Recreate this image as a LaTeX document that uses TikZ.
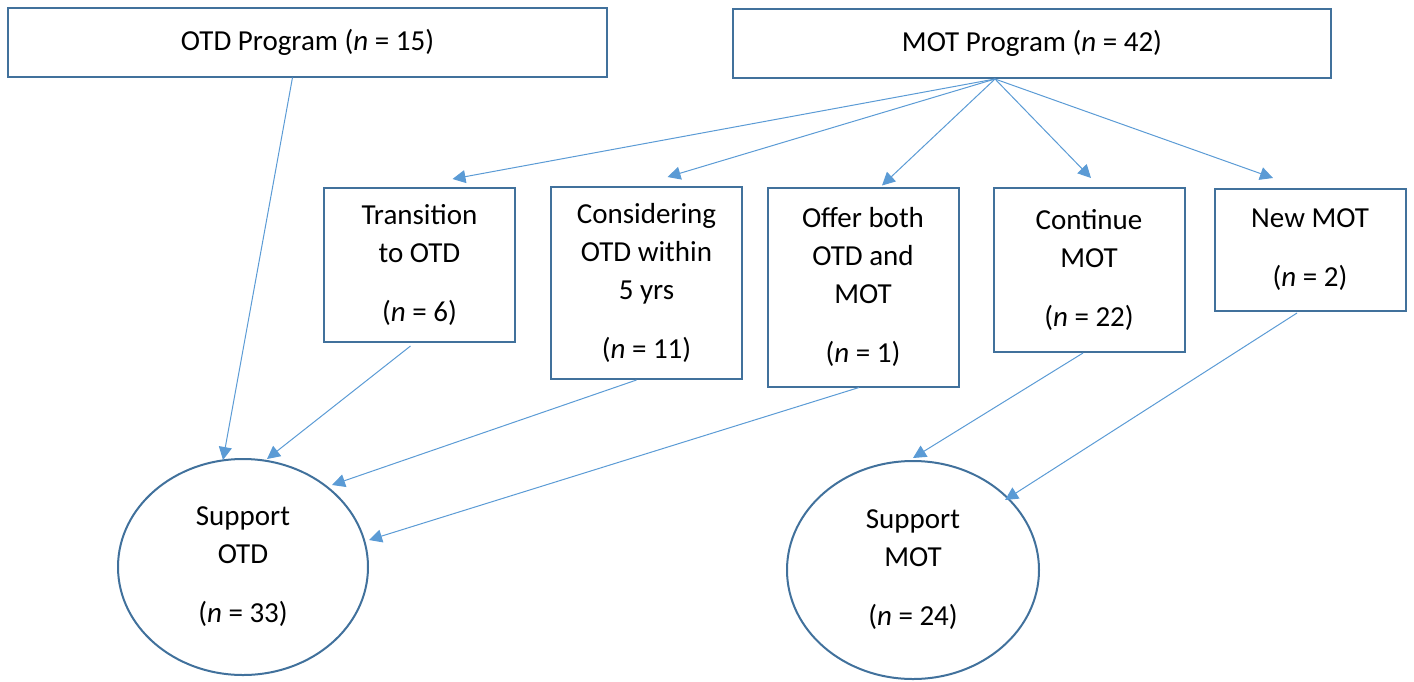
\documentclass[tikz,border=0pt]{standalone}
\usepackage{fontspec}
\setmainfont{Carlito}
\usepackage{tikz}
\usetikzlibrary{arrows.meta,calc,shapes.geometric}
\usepackage{xcolor}
\definecolor{Calypso}{HTML}{41719C}
\definecolor{Danube}{HTML}{5B9BD5}
\newcommand{\nn}[1]{(\textit{n} = #1)}

\tikzset{
  progbox/.style={draw=Calypso,line width=1pt,rectangle,inner sep=0pt,
    font=\fontsize{14.5}{19}\selectfont,align=center},
  choicebox/.style={progbox,minimum width=95.5pt},
  supportell/.style={draw=Calypso,line width=1pt,ellipse,inner sep=0pt,
    font=\fontsize{14.5}{19}\selectfont,align=center},
  flow/.style={draw=Danube,line width=0.5pt,-{Triangle[length=6.5pt,width=6.5pt]},fill=none}
}

\begin{document}
\begin{tikzpicture}[x=0.5pt,y=-0.5pt]
    \useasboundingbox (0,0) rectangle (1414,681);

    \node[progbox,minimum width=299.5pt,minimum height=34.5pt] (otd) at (307.5,42) {OTD Program \nn{15}};
    \node[progbox,minimum width=299pt,minimum height=34.5pt] (mot) at (1032,43.5) {MOT Program \nn{42}};

    \node[choicebox,minimum height=77pt] (trans) at (419.5,265) {Transition\\to OTD\\[10.5pt]\nn{6}};
    \node[choicebox,minimum height=96pt] (cons) at (646.5,283) {Considering\\OTD within\\5 yrs\\[10.5pt]\nn{11}};
    \node[choicebox,minimum height=99.5pt] (offer) at (863,287) {Offer both\\OTD and\\MOT\\[10.5pt]\nn{1}};
    \node[choicebox,minimum height=82pt] (cont) at (1089,270) {Continue\\MOT\\[10.5pt]\nn{22}};
    \node[choicebox,minimum height=61pt] (newmot) at (1310,250) {New MOT\\[10.5pt]\nn{2}};

    \node[supportell,minimum width=125pt,minimum height=108pt] (supotd) at (243,567) {Support\\OTD\\[10.5pt]\nn{33}};
    \node[supportell,minimum width=126pt,minimum height=109pt] (supmot) at (913,570) {Support\\MOT\\[10.5pt]\nn{24}};

    \coordinate (fan) at ($(mot.south)+(-37,0)$);
    \draw[flow] (fan) -- ($(trans.north)+(33,-8)$);
    \draw[flow] (fan) -- ($(cons.north)+(21,-9)$);
    \draw[flow] (fan) -- ($(offer.north)+(19,-1)$);
    \draw[flow] (fan) -- ($(cont.north)+(2,-9)$);
    \draw[flow] (fan) -- ($(newmot.north)+(-37,-10)$);

    \draw[flow] ($(otd.south)+(-15,0)$) -- ($(supotd.north)+(-20,2)$);
    \draw[flow] ($(trans.south)+(-9,3)$) -- ($(supotd.north)+(24,1)$);
    \draw[flow] ($(cons.south)+(-10,0)$) -- ($(supotd.center)+(89,-82)$);
    \draw[flow] ($(offer.south)+(-4,0)$) -- ($(supotd.center)+(126,-27)$);

    \draw[flow] ($(cont.south)+(-6,0)$) -- ($(supmot.north)+(0,-2)$);
    \draw[flow] ($(newmot.south)+(-13,1)$) -- ($(supmot.center)+(92,-70)$);
\end{tikzpicture}
\end{document}
